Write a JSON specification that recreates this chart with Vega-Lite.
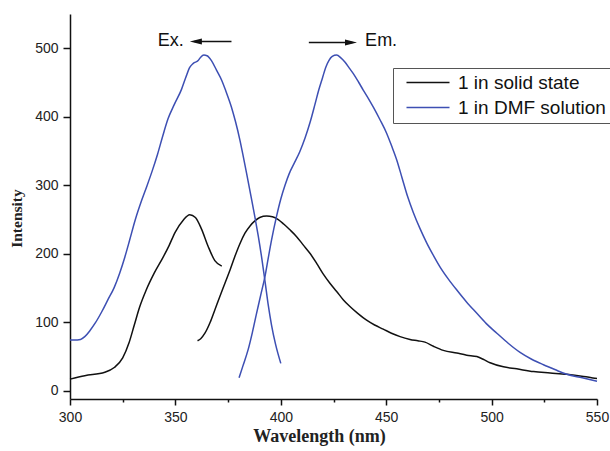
{
  "$schema": "https://vega.github.io/schema/vega-lite/v6.json",
  "width": 527,
  "height": 385,
  "autosize": {"type": "none"},
  "padding": {"left": 70, "top": 14, "right": 13, "bottom": 52},
  "background": "white",
  "config": {"view": {"stroke": null}},
  "datasets": {
    "spectra": [
      {"s": "1 in solid state", "b": "ex", "x": 300, "y": 17},
      {"s": "1 in solid state", "b": "ex", "x": 307, "y": 22},
      {"s": "1 in solid state", "b": "ex", "x": 316.5, "y": 27},
      {"s": "1 in solid state", "b": "ex", "x": 321, "y": 34},
      {"s": "1 in solid state", "b": "ex", "x": 325, "y": 48},
      {"s": "1 in solid state", "b": "ex", "x": 328, "y": 70},
      {"s": "1 in solid state", "b": "ex", "x": 330.5, "y": 96},
      {"s": "1 in solid state", "b": "ex", "x": 333, "y": 122},
      {"s": "1 in solid state", "b": "ex", "x": 336, "y": 146},
      {"s": "1 in solid state", "b": "ex", "x": 340, "y": 172},
      {"s": "1 in solid state", "b": "ex", "x": 344, "y": 194},
      {"s": "1 in solid state", "b": "ex", "x": 347, "y": 212},
      {"s": "1 in solid state", "b": "ex", "x": 350, "y": 232},
      {"s": "1 in solid state", "b": "ex", "x": 353.7, "y": 249},
      {"s": "1 in solid state", "b": "ex", "x": 356.8, "y": 257},
      {"s": "1 in solid state", "b": "ex", "x": 359.5, "y": 253},
      {"s": "1 in solid state", "b": "ex", "x": 362.4, "y": 236},
      {"s": "1 in solid state", "b": "ex", "x": 365.5, "y": 211},
      {"s": "1 in solid state", "b": "ex", "x": 368.7, "y": 190},
      {"s": "1 in solid state", "b": "ex", "x": 372, "y": 182},
      {"s": "1 in solid state", "b": "em", "x": 360.5, "y": 73},
      {"s": "1 in solid state", "b": "em", "x": 362, "y": 76},
      {"s": "1 in solid state", "b": "em", "x": 364, "y": 84},
      {"s": "1 in solid state", "b": "em", "x": 366.5, "y": 100},
      {"s": "1 in solid state", "b": "em", "x": 368.7, "y": 118},
      {"s": "1 in solid state", "b": "em", "x": 371, "y": 137},
      {"s": "1 in solid state", "b": "em", "x": 373.5, "y": 157},
      {"s": "1 in solid state", "b": "em", "x": 376, "y": 177},
      {"s": "1 in solid state", "b": "em", "x": 378.2, "y": 196},
      {"s": "1 in solid state", "b": "em", "x": 380.5, "y": 214},
      {"s": "1 in solid state", "b": "em", "x": 383, "y": 230},
      {"s": "1 in solid state", "b": "em", "x": 385.5, "y": 241},
      {"s": "1 in solid state", "b": "em", "x": 387.7, "y": 248},
      {"s": "1 in solid state", "b": "em", "x": 390, "y": 253},
      {"s": "1 in solid state", "b": "em", "x": 393.3, "y": 255},
      {"s": "1 in solid state", "b": "em", "x": 396, "y": 254},
      {"s": "1 in solid state", "b": "em", "x": 398.8, "y": 250},
      {"s": "1 in solid state", "b": "em", "x": 401.5, "y": 243},
      {"s": "1 in solid state", "b": "em", "x": 404.3, "y": 235},
      {"s": "1 in solid state", "b": "em", "x": 407.5, "y": 225},
      {"s": "1 in solid state", "b": "em", "x": 410.6, "y": 213},
      {"s": "1 in solid state", "b": "em", "x": 414, "y": 200},
      {"s": "1 in solid state", "b": "em", "x": 417, "y": 186},
      {"s": "1 in solid state", "b": "em", "x": 420, "y": 171},
      {"s": "1 in solid state", "b": "em", "x": 423.3, "y": 157},
      {"s": "1 in solid state", "b": "em", "x": 426.5, "y": 145},
      {"s": "1 in solid state", "b": "em", "x": 429.6, "y": 133},
      {"s": "1 in solid state", "b": "em", "x": 432.8, "y": 123},
      {"s": "1 in solid state", "b": "em", "x": 436.5, "y": 113},
      {"s": "1 in solid state", "b": "em", "x": 440.7, "y": 103},
      {"s": "1 in solid state", "b": "em", "x": 444.5, "y": 96},
      {"s": "1 in solid state", "b": "em", "x": 448.6, "y": 90},
      {"s": "1 in solid state", "b": "em", "x": 452.5, "y": 84},
      {"s": "1 in solid state", "b": "em", "x": 456.6, "y": 79},
      {"s": "1 in solid state", "b": "em", "x": 461.3, "y": 75},
      {"s": "1 in solid state", "b": "em", "x": 465, "y": 73},
      {"s": "1 in solid state", "b": "em", "x": 468.4, "y": 71},
      {"s": "1 in solid state", "b": "em", "x": 472.4, "y": 65},
      {"s": "1 in solid state", "b": "em", "x": 477.1, "y": 59},
      {"s": "1 in solid state", "b": "em", "x": 483.5, "y": 55},
      {"s": "1 in solid state", "b": "em", "x": 488.2, "y": 52},
      {"s": "1 in solid state", "b": "em", "x": 493, "y": 50},
      {"s": "1 in solid state", "b": "em", "x": 496, "y": 46},
      {"s": "1 in solid state", "b": "em", "x": 499.3, "y": 41},
      {"s": "1 in solid state", "b": "em", "x": 505.6, "y": 35},
      {"s": "1 in solid state", "b": "em", "x": 511.9, "y": 32},
      {"s": "1 in solid state", "b": "em", "x": 519.9, "y": 28},
      {"s": "1 in solid state", "b": "em", "x": 527.8, "y": 26},
      {"s": "1 in solid state", "b": "em", "x": 535.7, "y": 24},
      {"s": "1 in solid state", "b": "em", "x": 543.6, "y": 21},
      {"s": "1 in solid state", "b": "em", "x": 550, "y": 18},
      {"s": "1 in DMF solution", "b": "ex", "x": 300, "y": 74},
      {"s": "1 in DMF solution", "b": "ex", "x": 302, "y": 74},
      {"s": "1 in DMF solution", "b": "ex", "x": 305, "y": 75},
      {"s": "1 in DMF solution", "b": "ex", "x": 307, "y": 79},
      {"s": "1 in DMF solution", "b": "ex", "x": 309.5, "y": 88},
      {"s": "1 in DMF solution", "b": "ex", "x": 312, "y": 99},
      {"s": "1 in DMF solution", "b": "ex", "x": 315, "y": 115},
      {"s": "1 in DMF solution", "b": "ex", "x": 318, "y": 133},
      {"s": "1 in DMF solution", "b": "ex", "x": 321, "y": 151},
      {"s": "1 in DMF solution", "b": "ex", "x": 323.6, "y": 172},
      {"s": "1 in DMF solution", "b": "ex", "x": 326, "y": 195},
      {"s": "1 in DMF solution", "b": "ex", "x": 328.3, "y": 220},
      {"s": "1 in DMF solution", "b": "ex", "x": 331, "y": 250},
      {"s": "1 in DMF solution", "b": "ex", "x": 334, "y": 278},
      {"s": "1 in DMF solution", "b": "ex", "x": 336.5, "y": 299},
      {"s": "1 in DMF solution", "b": "ex", "x": 339, "y": 321},
      {"s": "1 in DMF solution", "b": "ex", "x": 341.5, "y": 345},
      {"s": "1 in DMF solution", "b": "ex", "x": 344, "y": 372},
      {"s": "1 in DMF solution", "b": "ex", "x": 346.5, "y": 397},
      {"s": "1 in DMF solution", "b": "ex", "x": 349.5, "y": 418},
      {"s": "1 in DMF solution", "b": "ex", "x": 352.9, "y": 440},
      {"s": "1 in DMF solution", "b": "ex", "x": 355, "y": 458},
      {"s": "1 in DMF solution", "b": "ex", "x": 356.8, "y": 472},
      {"s": "1 in DMF solution", "b": "ex", "x": 358.5, "y": 478},
      {"s": "1 in DMF solution", "b": "ex", "x": 360.8, "y": 482},
      {"s": "1 in DMF solution", "b": "ex", "x": 362, "y": 487},
      {"s": "1 in DMF solution", "b": "ex", "x": 363.5, "y": 490},
      {"s": "1 in DMF solution", "b": "ex", "x": 365, "y": 489},
      {"s": "1 in DMF solution", "b": "ex", "x": 367.1, "y": 482},
      {"s": "1 in DMF solution", "b": "ex", "x": 369.5, "y": 468},
      {"s": "1 in DMF solution", "b": "ex", "x": 372, "y": 453},
      {"s": "1 in DMF solution", "b": "ex", "x": 374, "y": 437},
      {"s": "1 in DMF solution", "b": "ex", "x": 376.6, "y": 414},
      {"s": "1 in DMF solution", "b": "ex", "x": 378.5, "y": 393},
      {"s": "1 in DMF solution", "b": "ex", "x": 380.6, "y": 366},
      {"s": "1 in DMF solution", "b": "ex", "x": 382, "y": 345},
      {"s": "1 in DMF solution", "b": "ex", "x": 383.8, "y": 317},
      {"s": "1 in DMF solution", "b": "ex", "x": 385.8, "y": 285},
      {"s": "1 in DMF solution", "b": "ex", "x": 387.7, "y": 254},
      {"s": "1 in DMF solution", "b": "ex", "x": 389.3, "y": 226},
      {"s": "1 in DMF solution", "b": "ex", "x": 391, "y": 193},
      {"s": "1 in DMF solution", "b": "ex", "x": 392.5, "y": 160},
      {"s": "1 in DMF solution", "b": "ex", "x": 394, "y": 126},
      {"s": "1 in DMF solution", "b": "ex", "x": 395.6, "y": 96},
      {"s": "1 in DMF solution", "b": "ex", "x": 397.5, "y": 68},
      {"s": "1 in DMF solution", "b": "ex", "x": 400, "y": 40},
      {"s": "1 in DMF solution", "b": "em", "x": 380.2, "y": 19},
      {"s": "1 in DMF solution", "b": "em", "x": 382, "y": 36},
      {"s": "1 in DMF solution", "b": "em", "x": 384.5, "y": 60},
      {"s": "1 in DMF solution", "b": "em", "x": 386.5, "y": 85},
      {"s": "1 in DMF solution", "b": "em", "x": 388.5, "y": 113},
      {"s": "1 in DMF solution", "b": "em", "x": 390.5, "y": 140},
      {"s": "1 in DMF solution", "b": "em", "x": 392.5, "y": 167},
      {"s": "1 in DMF solution", "b": "em", "x": 394, "y": 193},
      {"s": "1 in DMF solution", "b": "em", "x": 395.6, "y": 220},
      {"s": "1 in DMF solution", "b": "em", "x": 398, "y": 255},
      {"s": "1 in DMF solution", "b": "em", "x": 400, "y": 280},
      {"s": "1 in DMF solution", "b": "em", "x": 402, "y": 300},
      {"s": "1 in DMF solution", "b": "em", "x": 404, "y": 317},
      {"s": "1 in DMF solution", "b": "em", "x": 406.5, "y": 333},
      {"s": "1 in DMF solution", "b": "em", "x": 409, "y": 349},
      {"s": "1 in DMF solution", "b": "em", "x": 411.5, "y": 369},
      {"s": "1 in DMF solution", "b": "em", "x": 414, "y": 393},
      {"s": "1 in DMF solution", "b": "em", "x": 416.2, "y": 418},
      {"s": "1 in DMF solution", "b": "em", "x": 418, "y": 439},
      {"s": "1 in DMF solution", "b": "em", "x": 419.8, "y": 457},
      {"s": "1 in DMF solution", "b": "em", "x": 421.3, "y": 472},
      {"s": "1 in DMF solution", "b": "em", "x": 422.8, "y": 482},
      {"s": "1 in DMF solution", "b": "em", "x": 424.4, "y": 488},
      {"s": "1 in DMF solution", "b": "em", "x": 426.5, "y": 490},
      {"s": "1 in DMF solution", "b": "em", "x": 428.5, "y": 486},
      {"s": "1 in DMF solution", "b": "em", "x": 430.4, "y": 480},
      {"s": "1 in DMF solution", "b": "em", "x": 432.5, "y": 471},
      {"s": "1 in DMF solution", "b": "em", "x": 434.4, "y": 463},
      {"s": "1 in DMF solution", "b": "em", "x": 437, "y": 450},
      {"s": "1 in DMF solution", "b": "em", "x": 439.1, "y": 439},
      {"s": "1 in DMF solution", "b": "em", "x": 441.5, "y": 427},
      {"s": "1 in DMF solution", "b": "em", "x": 443.9, "y": 414},
      {"s": "1 in DMF solution", "b": "em", "x": 447, "y": 396},
      {"s": "1 in DMF solution", "b": "em", "x": 450.2, "y": 376},
      {"s": "1 in DMF solution", "b": "em", "x": 452.5, "y": 358},
      {"s": "1 in DMF solution", "b": "em", "x": 455, "y": 337},
      {"s": "1 in DMF solution", "b": "em", "x": 457.5, "y": 311},
      {"s": "1 in DMF solution", "b": "em", "x": 460, "y": 285},
      {"s": "1 in DMF solution", "b": "em", "x": 462.9, "y": 260},
      {"s": "1 in DMF solution", "b": "em", "x": 466, "y": 237},
      {"s": "1 in DMF solution", "b": "em", "x": 469.2, "y": 216},
      {"s": "1 in DMF solution", "b": "em", "x": 472.5, "y": 197},
      {"s": "1 in DMF solution", "b": "em", "x": 475.5, "y": 181},
      {"s": "1 in DMF solution", "b": "em", "x": 479.5, "y": 163},
      {"s": "1 in DMF solution", "b": "em", "x": 483.5, "y": 147},
      {"s": "1 in DMF solution", "b": "em", "x": 488, "y": 130},
      {"s": "1 in DMF solution", "b": "em", "x": 493, "y": 113},
      {"s": "1 in DMF solution", "b": "em", "x": 497.5, "y": 98},
      {"s": "1 in DMF solution", "b": "em", "x": 502.5, "y": 84},
      {"s": "1 in DMF solution", "b": "em", "x": 508, "y": 69},
      {"s": "1 in DMF solution", "b": "em", "x": 513.5, "y": 56},
      {"s": "1 in DMF solution", "b": "em", "x": 519, "y": 46},
      {"s": "1 in DMF solution", "b": "em", "x": 524.6, "y": 38},
      {"s": "1 in DMF solution", "b": "em", "x": 530, "y": 31},
      {"s": "1 in DMF solution", "b": "em", "x": 535.7, "y": 24},
      {"s": "1 in DMF solution", "b": "em", "x": 543, "y": 19},
      {"s": "1 in DMF solution", "b": "em", "x": 550, "y": 14}
    ]
  },
  "layer": [
    {
      "data": {"name": "spectra"},
      "mark": {"type": "line", "strokeWidth": 1.5, "interpolate": "monotone"},
      "encoding": {
        "x": {
          "field": "x", "type": "quantitative",
          "scale": {"domain": [300, 550], "nice": false, "zero": false},
          "axis": {
            "title": "Wavelength (nm)",
            "values": [300, 325, 350, 375, 400, 425, 450, 475, 500, 525, 550],
            "labelExpr": "datum.value % 50 === 0 ? datum.label : ''",
            "tickSize": {"condition": {"test": "datum.value % 50 === 0", "value": 6}, "value": 3},
            "grid": false,
            "domainColor": "#111", "domainWidth": 1.5,
            "tickColor": "#111", "tickWidth": 1.5,
            "labelFont": "Liberation Sans", "labelFontSize": 14, "labelColor": "#222",
            "labelPadding": 5, "labelFlush": false,
            "titleFont": "Liberation Serif", "titleFontSize": 18, "titleFontWeight": "bold",
            "titleColor": "#222", "titlePadding": 3, "titleX": 249
          }
        },
        "y": {
          "field": "y", "type": "quantitative",
          "scale": {"domain": [-12, 550], "nice": false, "zero": false},
          "axis": {
            "title": "Intensity",
            "values": [0, 50, 100, 150, 200, 250, 300, 350, 400, 450, 500, 550],
            "labelExpr": "datum.value % 100 === 0 ? datum.label : ''",
            "tickSize": {"condition": {"test": "datum.value % 100 === 0", "value": 7}, "value": 4},
            "grid": false,
            "domainColor": "#111", "domainWidth": 1.5,
            "tickColor": "#111", "tickWidth": 1.5,
            "labelFont": "Liberation Sans", "labelFontSize": 14, "labelColor": "#222",
            "labelPadding": 5,
            "titleFont": "Liberation Serif", "titleFontSize": 15.5, "titleFontWeight": "bold",
            "titleColor": "#222", "titlePadding": 10, "titleY": 204
          }
        },
        "color": {
          "field": "s", "type": "nominal",
          "scale": {"domain": ["1 in solid state", "1 in DMF solution"], "range": ["#111111", "#3d4fb3"]},
          "legend": {
            "title": null, "orient": "none", "legendX": 323, "legendY": 54,
            "symbolType": "M -0.125 0 H 5.25", "symbolSize": 256, "symbolStrokeWidth": 1.5,
            "labelFont": "Liberation Sans", "labelFontSize": 19, "labelColor": "#111",
            "labelOffset": 41, "rowPadding": 5, "padding": 5,
            "strokeColor": "#555", "fillColor": "white"
          }
        },
        "detail": {"field": "b"}
      }
    },
    {
      "data": {"values": [{}]},
      "mark": {"type": "text", "font": "Liberation Sans", "fontSize": 18, "color": "#111", "align": "center", "baseline": "middle"},
      "encoding": {"x": {"datum": 347.8}, "y": {"datum": 510}, "text": {"value": "Ex."}}
    },
    {
      "data": {"values": [{}]},
      "mark": {"type": "text", "font": "Liberation Sans", "fontSize": 18, "color": "#111", "align": "left", "baseline": "middle"},
      "encoding": {"x": {"datum": 440}, "y": {"datum": 510}, "text": {"value": "Em."}}
    },
    {
      "data": {"values": [{}]},
      "mark": {"type": "rule", "color": "#111", "strokeWidth": 1.5},
      "encoding": {"x": {"datum": 359}, "x2": {"datum": 376.6}, "y": {"datum": 510}}
    },
    {
      "data": {"values": [{}]},
      "mark": {"type": "rule", "color": "#111", "strokeWidth": 1.5},
      "encoding": {"x": {"datum": 413.3}, "x2": {"datum": 434}, "y": {"datum": 508.5}}
    },
    {
      "data": {"values": [{}]},
      "mark": {"type": "point", "shape": "M -1 0 L 1 -0.5 L 1 0.5 Z", "filled": true, "color": "#111", "opacity": 1, "size": 144},
      "encoding": {"x": {"datum": 359.7}, "y": {"datum": 510}}
    },
    {
      "data": {"values": [{}]},
      "mark": {"type": "point", "shape": "M 1 0 L -1 -0.5 L -1 0.5 Z", "filled": true, "color": "#111", "opacity": 1, "size": 144},
      "encoding": {"x": {"datum": 433.3}, "y": {"datum": 508.5}}
    }
  ]
}
